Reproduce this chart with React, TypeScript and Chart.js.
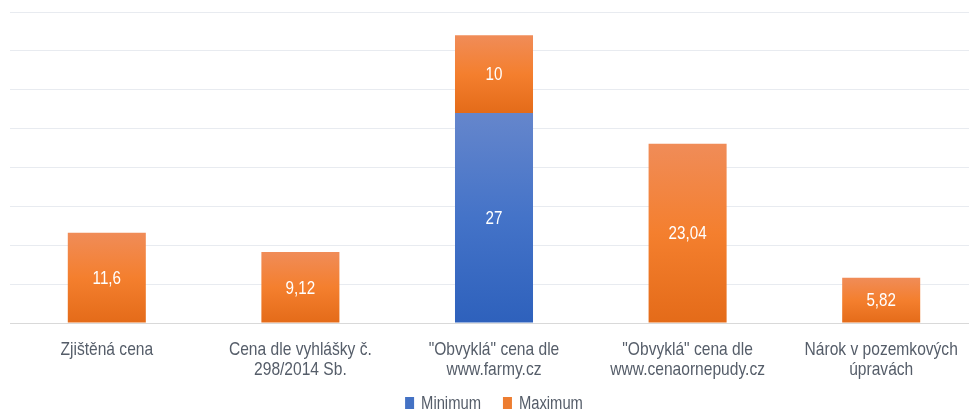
import React, { useEffect, useRef } from "react";
import { Chart, registerables } from "chart.js";

Chart.register(...registerables);

const categories: string[][] = [
  ["Zjištěná cena"],
  ["Cena dle vyhlášky č.", "298/2014 Sb."],
  ["\"Obvyklá\" cena dle", "www.farmy.cz"],
  ["\"Obvyklá\" cena dle", "www.cenaornepudy.cz"],
  ["Nárok v pozemkových", "úpravách"],
];
const seriesNames = ["Minimum", "Maximum"];
const minimumValues: (number | null)[] = [null, null, 27, null, null];
const maximumValues: (number | null)[] = [11.6, 9.12, 10, 23.04, 5.82];
const formatNum = (v: number) => String(v).replace(".", ",");

const FONT = "'Liberation Sans', Arial, sans-serif";
const TEXT_COLOR = "#555d69";
const SX = 0.82; // horizontal condensation of the text

function makeGradient(ctx: any, top: string, mid: string, bottom: string, stackBase: (number | null)[]) {
  const chart = ctx.chart;
  const i = ctx.dataIndex;
  const v = ctx.raw;
  const y = chart.scales?.y;
  if (!y || v == null || !chart.chartArea) return mid;
  const b = stackBase[i] ?? 0;
  const yTop = y.getPixelForValue(b + v);
  const yBot = y.getPixelForValue(b);
  if (!isFinite(yTop) || !isFinite(yBot) || yTop === yBot) return mid;
  const g = chart.ctx.createLinearGradient(0, yTop, 0, yBot);
  g.addColorStop(0, top);
  g.addColorStop(0.5, mid);
  g.addColorStop(1, bottom);
  return g;
}

function condensedText(ctx: CanvasRenderingContext2D, text: string, x: number, y: number, sx: number) {
  ctx.save();
  ctx.translate(x, y);
  ctx.scale(sx, 1);
  ctx.fillText(text, 0, 0);
  ctx.restore();
}

const textPlugin = {
  id: "texts",
  afterDatasetsDraw(chart: any) {
    const ctx: CanvasRenderingContext2D = chart.ctx;
    const area = chart.chartArea;
    ctx.save();
    // segment labels
    ctx.fillStyle = "#ffffff";
    ctx.font = `19px ${FONT}`;
    ctx.textAlign = "center";
    ctx.textBaseline = "middle";
    chart.data.datasets.forEach((ds: any, di: number) => {
      const meta = chart.getDatasetMeta(di);
      meta.data.forEach((el: any, i: number) => {
        const v = ds.data[i];
        if (v == null) return;
        condensedText(ctx, formatNum(v), el.x, (el.y + el.base) / 2 + 1, 0.8);
      });
    });
    // category labels
    const xs = chart.scales.x;
    ctx.fillStyle = TEXT_COLOR;
    ctx.font = `19px ${FONT}`;
    ctx.textAlign = "center";
    ctx.textBaseline = "alphabetic";
    categories.forEach((lines, i) => {
      const x = xs.getPixelForTick(i);
      lines.forEach((line, li) => {
        condensedText(ctx, line, x, area.bottom + 32 + li * 20, SX);
      });
    });
    // legend
    ctx.font = `18px ${FONT}`;
    ctx.textAlign = "left";
    const colors = ["#4472c4", "#ed7d31"];
    const boxW = 9, boxH = 12, gap = 7, itemGap = 22;
    const widths = seriesNames.map((n) => ctx.measureText(n).width * SX);
    const total = widths.reduce((a, w) => a + boxW + gap + w, 0) + itemGap * (seriesNames.length - 1);
    let x = (area.left + area.right) / 2 - total / 2;
    const base = 409;
    seriesNames.forEach((n, i) => {
      ctx.fillStyle = colors[i];
      ctx.fillRect(x, base - boxH, boxW, boxH);
      x += boxW + gap;
      ctx.fillStyle = TEXT_COLOR;
      condensedText(ctx, n, x, base, SX);
      x += widths[i] + itemGap;
    });
    ctx.restore();
  },
};

export default function App() {
  const ref = useRef<HTMLCanvasElement>(null);
  useEffect(() => {
    document.body.style.margin = "0";
    document.body.style.overflow = "hidden";
    const zeros = [0, 0, 0, 0, 0];
    const chart = new Chart(ref.current!, {
      type: "bar",
      data: {
        labels: categories.map((c) => c.join(" ")),
        datasets: [
          {
            label: seriesNames[0],
            data: minimumValues,
            backgroundColor: (c: any) => makeGradient(c, "#6586cc", "#4473c8", "#2e61bc", zeros),
            barPercentage: 0.403,
            categoryPercentage: 1,
          },
          {
            label: seriesNames[1],
            data: maximumValues,
            backgroundColor: (c: any) => makeGradient(c, "#f08c58", "#f47f2e", "#e46b19", minimumValues),
            barPercentage: 0.403,
            categoryPercentage: 1,
          },
        ],
      },
      options: {
        animation: false,
        responsive: false,
        maintainAspectRatio: false,
        layout: { padding: { top: 12, left: 10, right: 0, bottom: 88 } },
        plugins: {
          tooltip: { enabled: false },
          legend: { display: false },
        },
        scales: {
          x: {
            stacked: true,
            grid: { display: false, drawTicks: false },
            border: { display: false },
            ticks: { display: false },
          },
          y: {
            stacked: true,
            min: 0,
            max: 40,
            ticks: { display: false, stepSize: 5 },
            border: { display: false },
            grid: {
              drawTicks: false,
              color: (c: any) => (c.tick && c.tick.value === 0 ? "#d9d9d9" : "#e8ebf0"),
              lineWidth: 1,
            },
          },
        },
      },
      plugins: [textPlugin],
    });
    return () => chart.destroy();
  }, []);
  return (
    <div style={{ width: 969, height: 411, overflow: "hidden" }}>
      <canvas ref={ref} width={978} height={411} style={{ display: "block" }} />
    </div>
  );
}
